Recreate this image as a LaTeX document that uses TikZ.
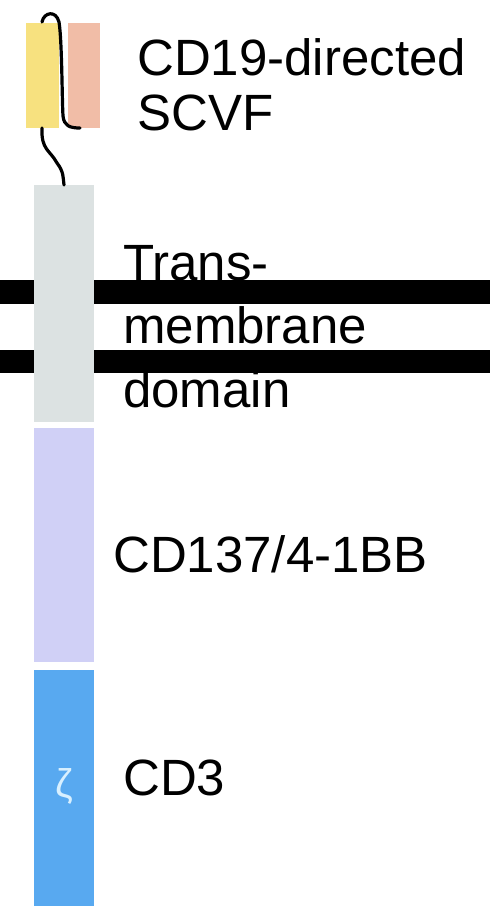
\documentclass[tikz,border=0pt]{standalone}
\usepackage{fontspec}
\setmainfont{Liberation Sans}
\definecolor{vh}{HTML}{F7E17F}
\definecolor{vl}{HTML}{F1BDA7}
\definecolor{tm}{HTML}{DCE2E2}
\definecolor{bb}{HTML}{D0D0F6}
\definecolor{zz}{HTML}{58A9F0}
\definecolor{zl}{HTML}{D8F0FF}
\begin{document}
\begin{tikzpicture}[x=1pt,y=-1pt,
  seg/.style={inner sep=0pt,outer sep=0pt,draw=none},
  lbl/.style={anchor=base west,inner sep=0pt,align=left,font=\fontsize{51}{55}\selectfont},
  lbl2/.style={anchor=base west,inner sep=0pt,align=left,font=\fontsize{51}{63.5}\selectfont},
  mem/.style={fill=black,draw=none},
  link/.style={draw=black,line width=3.2pt,line cap=round}]
\useasboundingbox (0,0) rectangle (490,908);
\fill[white] (0,0) rectangle (490,908);
% membrane bars
\fill[mem] (0,280) rectangle (490,304);
\fill[mem] (0,350) rectangle (490,373);
% domains
\node[seg,fill=vh,minimum width=33pt,minimum height=105pt] (vh) at (42.5,75.5) {};
\node[seg,fill=vl,minimum width=32pt,minimum height=105pt] (vl) at (84,75.5) {};
\node[seg,fill=tm,minimum width=60pt,minimum height=237pt] (tm) at (64,303.5) {};
\node[seg,fill=bb,minimum width=60pt,minimum height=234pt] (bb) at (64,545) {};
\node[seg,fill=zz,minimum width=60pt,minimum height=236pt] (cd3) at (64,788) {};
\node[text=zl,font=\fontsize{40}{40}\selectfont,inner sep=0pt] (zeta) at (64,786) {ζ};
% linkers
\coordinate (h0) at (42,22);
\coordinate (h1) at (80,128);
\coordinate (k0) at (42,128);
\draw[link] (h0) .. controls (44,12) and (56,10) .. (59,22)
  .. controls (62,40) and (62,100) .. (63,116)
  .. controls (64,126) and (70,128) .. (h1);
\draw[link] (k0) .. controls (41,150) and (50,150) .. (57,163)
  .. controls (64,172) and (63,178) .. (tm.north);
% labels
\node[lbl] (l1) at (137,130) {CD19-directed\\SCVF};
\node[lbl2] (l2) at (123,407) {Trans-\\membrane\\domain};
\node[lbl] (l3) at (113,572) {CD137/4-1BB};
\node[lbl] (l4) at (123,795) {CD3};
\end{tikzpicture}
\end{document}
